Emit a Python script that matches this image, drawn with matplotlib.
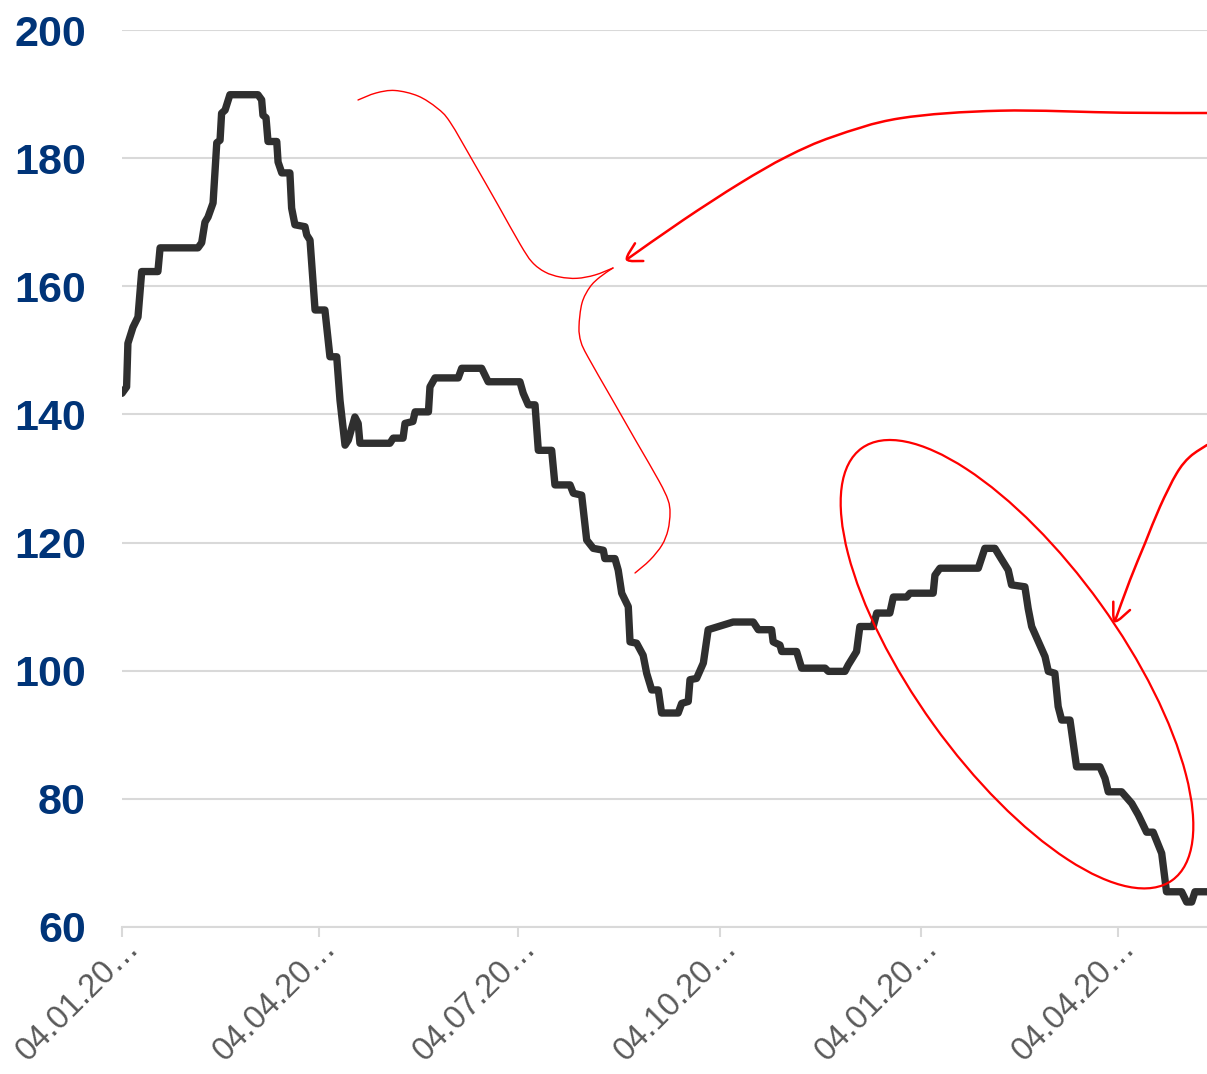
import numpy as np
import matplotlib
matplotlib.use('Agg')
import matplotlib.pyplot as plt
import matplotlib.dates as mdates
import matplotlib.transforms as mtransforms
from matplotlib.path import Path
from matplotlib.patches import PathPatch, Ellipse

plt.rcParams['font.family'] = ['Liberation Sans', 'DejaVu Sans']

# series: days after 04.01.2021 and index value
days = [0.0, 2.1, 2.7, 5.0, 7.3, 9.0, 16.4, 17.4, 34.7, 36.4, 37.9, 39.3, 41.6,
        43.3, 44.8, 45.5, 47.1, 49.3, 62.1, 63.8, 64.4, 65.8, 66.7, 70.7, 71.3,
        73.0, 76.7, 77.5, 79.0, 83.6, 84.4, 85.9, 88.2, 92.7, 95.0, 98.1, 99.6,
        101.9, 103.4, 106.4, 107.9, 108.7, 122.4, 123.9, 128.4, 129.3, 132.9,
        133.9, 140.0, 140.7, 143.0, 153.6, 155.2, 164.3, 167.3, 181.8, 183.3,
        185.6, 188.7, 190.2, 196.3, 197.8, 204.7, 206.2, 210.0, 212.3, 215.3,
        219.9, 220.6, 225.2, 226.7, 228.3, 231.3, 232.1, 235.1, 238.1, 239.7,
        242.0, 245.0, 246.5, 254.1, 255.7, 258.7, 259.5, 262.5, 265.6, 267.8,
        279.2, 288.4, 290.7, 296.8, 297.5, 300.6, 301.4, 308.2, 310.5, 321.2,
        322.7, 330.3, 331.8, 335.6, 337.1, 343.2, 344.8, 350.8, 352.4, 358.5,
        360.0, 370.6, 371.4, 373.7, 391.2, 394.2, 398.8, 401.1, 404.9, 406.4,
        412.5, 414.0, 415.6, 421.7, 423.2, 426.2, 427.7, 429.3, 433.1, 436.1,
        446.8, 449.1, 450.6, 456.7, 461.3, 464.3, 468.1, 471.1, 475.0, 477.2,
        484.1, 486.4, 488.7, 490.2, 495.7]
values = [143.3, 144.3, 151.1, 153.6, 155.2, 162.3, 162.3, 166.0, 166.0, 166.8,
          170.0, 170.8, 173.0, 182.4, 182.8, 187.0, 187.5, 189.9, 189.9, 189.1,
          186.7, 186.3, 182.6, 182.6, 179.4, 177.7, 177.7, 172.2, 169.6, 169.3,
          168.0, 167.2, 156.3, 156.3, 149.0, 149.0, 142.2, 135.2, 136.0, 139.6,
          138.6, 135.5, 135.5, 136.3, 136.3, 138.6, 138.9, 140.4, 140.4, 144.3,
          145.7, 145.7, 147.2, 147.2, 145.1, 145.1, 143.3, 141.5, 141.5, 134.4,
          134.4, 129.0, 129.0, 127.7, 127.4, 120.4, 119.1, 118.8, 117.5, 117.5,
          115.7, 112.1, 110.0, 104.5, 104.3, 102.4, 99.6, 97.0, 97.0, 93.4,
          93.4, 94.9, 95.2, 98.6, 98.8, 101.2, 106.4, 107.6, 107.6, 106.4,
          106.4, 104.5, 104.0, 103.0, 103.0, 100.4, 100.4, 99.9, 99.9, 100.9,
          103.0, 106.9, 106.9, 109.0, 109.0, 111.5, 111.5, 112.1, 112.1, 114.9,
          116.0, 116.0, 119.1, 119.1, 117.8, 115.7, 113.4, 113.1, 109.7, 106.9,
          102.2, 99.9, 99.6, 94.4, 92.3, 92.3, 85.0, 85.0, 83.2, 81.1, 81.1,
          79.3, 77.5, 74.8, 74.8, 71.5, 65.5, 65.5, 63.9, 63.9, 65.5, 65.5]

start = np.datetime64('2021-01-04')
tick_dates = ['2021-01-04', '2021-04-04', '2021-07-04', '2021-10-04',
              '2022-01-04', '2022-04-04']
yticks = [60, 80, 100, 120, 140, 160, 180, 200]

fig = plt.figure(figsize=(12.07, 10.74), dpi=100)
ax = fig.add_axes([122/1207, 147/1074, 1 - 122/1207, 897/1074])

x0 = mdates.date2num(start)
x = x0 + np.array(days)
ax.plot(x, values, color='#2f2f2f', lw=5.3, solid_joinstyle='round',
        solid_capstyle='round', zorder=3)

ax.set_xlim(x0, x0 + 495.7)
ax.set_ylim(60, 200)
ax.set_yticks(yticks)
ax.set_xticks([mdates.date2num(np.datetime64(d)) for d in tick_dates])
ax.xaxis.set_major_formatter(
    plt.FuncFormatter(lambda v, p: mdates.num2date(v).strftime('%d.%m.%Y')[:8] + '…'))

ax.grid(axis='y', color='#d9d9d9', lw=1.5)
ax.set_axisbelow(True)
for s in ['top', 'right', 'left']:
    ax.spines[s].set_visible(False)
ax.spines['bottom'].set_color('#d9d9d9')
ax.spines['bottom'].set_linewidth(1.5)

ax.tick_params(axis='y', length=0, pad=26, labelsize=31, labelcolor='#003478')
for lab in ax.get_yticklabels():
    lab.set_fontweight('bold')
ax.tick_params(axis='x', length=7.5, width=1.5, color='#d9d9d9', pad=0,
               labelsize=23.5, labelcolor='#595959')
off = mtransforms.ScaledTranslation(24/100, 5/100, fig.dpi_scale_trans)
for lab in ax.get_xticklabels():
    lab.set_rotation(45)
    lab.set_ha('right')
    lab.set_transform(lab.get_transform() + off)

# red hand-drawn marks, given in picture pixels
px = mtransforms.Affine2D().scale(1, -1).translate(0, 1074).scale(1/100) + fig.dpi_scale_trans


def curve(pts):
    pts = np.array(pts, dtype=float)
    verts = [pts[0]]
    codes = [Path.MOVETO]
    for i in range(len(pts) - 1):
        p0 = pts[i-1] if i > 0 else pts[i]
        p1 = pts[i]
        p2 = pts[i+1]
        p3 = pts[i+2] if i + 2 < len(pts) else pts[i+1]
        verts += [p1 + (p2 - p0)/6, p2 - (p3 - p1)/6, p2]
        codes += [Path.CURVE4]*3
    return Path(verts, codes)


def draw(pts, lw):
    fig.patches.append(PathPatch(curve(pts), transform=px, fill=False,
                                 edgecolor='#ff0000', lw=lw, capstyle='round'))


brace_top = [(358, 100), (376, 93), (395, 90.5), (418, 96), (437, 108), (450, 122),
             (474, 163), (498, 205), (520, 244), (532, 262), (545, 272), (560, 277),
             (577, 278.3), (595, 275), (613, 268)]
brace_bot = [(613, 268), (600, 277), (590, 287), (582, 303), (579, 327), (581, 342),
             (588, 357), (612, 399), (636, 441), (659, 481), (668, 500), (670, 513),
             (668, 530), (662, 545), (650, 560), (635, 573)]
draw(brace_top, 1.0)
draw(brace_bot, 1.0)

arrow1 = [(1207, 113), (1123, 112.7), (1000, 110.7), (900, 118.3), (833, 136.7),
          (786.7, 156.7), (740, 183.3), (683.3, 220), (627, 259.3)]
draw(arrow1, 1.8)
draw([(635, 243.3), (627, 259.3), (643.3, 261)], 1.8)

arrow2 = [(1207, 445), (1190, 456.7), (1176.7, 473.3), (1160, 506.7),
          (1145, 543.3), (1130, 580), (1115, 621)]
draw(arrow2, 1.8)
draw([(1113.3, 601.7), (1115, 621), (1130, 610)], 1.8)

fig.patches.append(Ellipse((1017, 664.2), 532, 206, angle=54.3, transform=px,
                           fill=False, edgecolor='#ff0000', lw=1.6))

fig.savefig('out.png', dpi=100)
